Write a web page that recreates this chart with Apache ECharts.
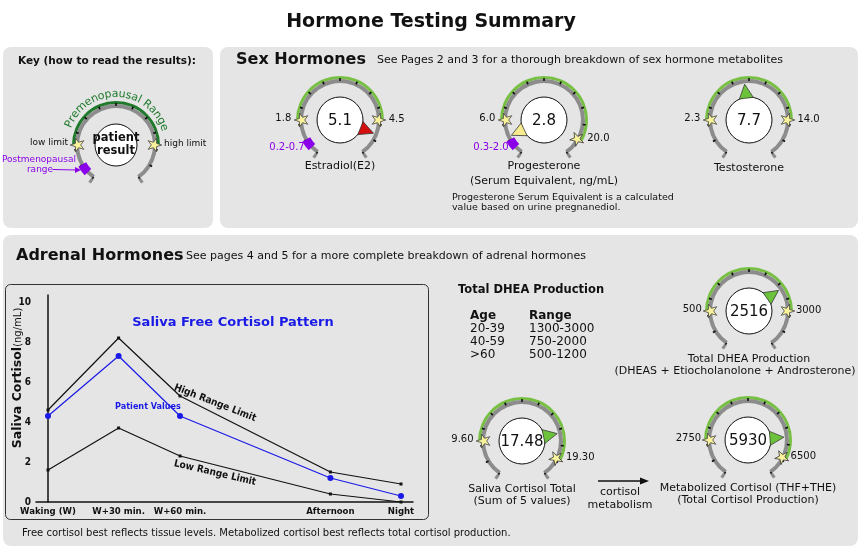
<!DOCTYPE html>
<html>
<head>
<meta charset="utf-8">
<title>Hormone Testing Summary</title>
<script src="https://cdn.jsdelivr.net/npm/echarts@6/dist/echarts.min.js"></script>
<style>
html,body{margin:0;padding:0;background:#fff;}
#main{width:863px;height:550px;}
</style>
</head>
<body>
<div id="main"></div>
<script>
// cortisol day curve
var timeLabels = ['Waking (W)', 'W+30 min.', 'W+60 min.', 'Afternoon', 'Night'];
var timePos = [0, 1, 1.87, 4, 5];
var highLimit = [4.6, 8.2, 5.3, 1.5, 0.9];
var lowLimit = [1.6, 3.7, 2.3, 0.4, 0.0];
var patientVals = [4.3, 7.3, 4.3, 1.2, 0.3];

// gauges
var gaugeNames = ['Estradiol(E2)', 'Progesterone\n(Serum Equivalent, ng/mL)', 'Testosterone',
    'Total DHEA Production\n(DHEAS + Etiocholanolone + Androsterone)        ',
    'Saliva Cortisol Total\n(Sum of 5 values)', 'Metabolized Cortisol (THF+THE)\n(Total Cortisol Production)'];
var gaugeValues = [5.1, 2.8, 7.7, 2516, 17.48, 5930];
var gaugeText = ['5.1', '2.8', '7.7', '2516', '17.48', '5930'];
var lowLimits = [1.8, 6.0, 2.3, 500, 9.60, 2750];
var highLimits = [4.5, 20.0, 14.0, 3000, 19.30, 6500];
var lowText = ['1.8', '6.0', '2.3', '500', '9.60', '2750'];
var highText = ['4.5', '20.0', '14.0', '3000', '19.30', '6500'];
var postRange = ['0.2-0.7', '0.3-2.0', '', '', '', ''];

// DHEA table
var ageGroups = ['20-39', '40-59', '>60'];
var ageRanges = ['1300-3000', '750-2000', '500-1200'];

// layout
var gaugeCenters = [[340, 120], [544, 120], [749, 120], [749, 311], [522, 441], [748, 440]];
var highAngles = [0, -30, 0, 0, -27, -27];
var nameOffsets = [46, 53.5, 48, 54.5, 54, 54.5];
var nameLineHeights = [13, 15, 13, 12, 12, 12];

var FONT = '"DejaVu Sans", Verdana, sans-serif';
var COND = '"DejaVu Sans Condensed", "DejaVu Sans", sans-serif';
var START = 235, END = -55, RING = 41;
var GREY = '#8c8c8c', GREEN = '#78c044', DKGREEN = '#1f7a2c', PURPLE = '#8a00e8', PANEL = '#e5e5e5';
var CLEAR = 'rgba(0,0,0,0)';
var STAR = 'path://M50,2 L61,37 L97,37 L68,58 L79,93 L50,72 L21,93 L32,58 L3,37 L39,37 Z';

function makeScale(low, high, hAng) {
    var k = (high - low) / (180 - hAng);
    return {min: low - (START - 180) * k, max: high + (hAng - END) * k};
}
function frac(v, sc) { return (v - sc.min) / (sc.max - sc.min); }
function angFrac(a) { return (START - a) / (START - END); }
function clampShow(v, lo, hi) {
    var pad = (hi - lo) * 0.12;
    return Math.max(lo - pad, Math.min(hi + pad, v));
}

function baseGauge(c, sc, radius, width, colors) {
    return {
        type: 'gauge', center: c, radius: radius, startAngle: START, endAngle: END,
        min: sc.min, max: sc.max, splitNumber: 12,
        axisLine: {show: true, lineStyle: {width: width, color: colors}},
        axisTick: {show: false}, splitLine: {show: false}, axisLabel: {show: false},
        pointer: {show: false}, anchor: {show: false}, title: {show: false}, detail: {show: false},
        data: []
    };
}

// ring, band, ticks, centre disc, purple block, stars
function ringSeries(series, c, sc, low, high, bandColor, purpleText, lowName, highName, labFont, hAng, disc, charW) {
    series.push(baseGauge(c, sc, RING + 3, 3, [[frac(low, sc), CLEAR], [frac(high, sc), bandColor], [1, CLEAR]]));
    var track = baseGauge(c, sc, RING, 4, [[1, GREY]]);
    track.splitLine = {show: true, length: 3, distance: -5, lineStyle: {color: '#111', width: 1.6}};
    series.push(track);
    var hooks = baseGauge(c, sc, RING, 4, [[1, CLEAR]]);
    hooks.splitNumber = 1;
    hooks.splitLine = {show: true, length: 5, distance: -9, lineStyle: {color: GREY, width: 3}};
    hooks.anchor = {show: true, showAbove: false, size: disc, icon: 'circle', itemStyle: {color: '#fff', borderColor: '#111', borderWidth: 1}};
    series.push(hooks);
    if (purpleText !== null) {
        var p = baseGauge(c, sc, RING + 2.5, 9, [[angFrac(224), CLEAR], [angFrac(210), PURPLE], [1, CLEAR]]);
        if (purpleText) {
            p.title = {show: true, fontSize: 10, color: PURPLE, fontFamily: FONT};
            p.data = [{value: sc.min, name: purpleText, title: {offsetCenter: [-53, 27]}}];
        }
        series.push(p);
    }
    var wl = lowName.length * labFont * charW, wh = highName.length * labFont * charW;
    var ha = hAng * Math.PI / 180;
    var stars = baseGauge(c, sc, RING, 4, [[1, CLEAR]]);
    stars.axisLine.show = false;
    stars.pointer = {show: true, icon: STAR, length: 14, width: 14, keepAspect: true, offsetCenter: [0, -(RING - 2 - 7)]};
    stars.itemStyle = {color: '#f8f29a', borderColor: '#444', borderWidth: 0.8};
    stars.title = {show: true, fontSize: labFont, color: '#111', fontFamily: FONT};
    stars.data = [
        {value: low, name: lowName, title: {offsetCenter: [-(RING - 2) - 9 - wl / 2, -2]}},
        {value: high, name: highName, title: {offsetCenter: [Math.cos(ha) * (RING - 2) + 9 + wh / 2, -Math.sin(ha) * (RING - 2) - 1]}}
    ];
    series.push(stars);
}

var series = [];

// key gauge
var keyScale = makeScale(0, 1, 0);
ringSeries(series, [116, 145], keyScale, 0, 1, DKGREEN, '', 'low limit', 'high limit', 9, 0, 42, 0.47);
var keyVal = baseGauge([116, 145], keyScale, RING, 4, [[1, CLEAR]]);
keyVal.axisLine.show = false;
keyVal.detail = {show: true, offsetCenter: [0, 0], fontSize: 11.5, fontWeight: 'bold', lineHeight: 13, color: '#111', fontFamily: FONT,
    formatter: function () { return 'patient\nresult'; }};
keyVal.data = [{value: 0.5, name: ''}];
series.push(keyVal);

for (var i = 0; i < gaugeValues.length; i++) {
    var sc = makeScale(lowLimits[i], highLimits[i], highAngles[i]);
    ringSeries(series, gaugeCenters[i], sc, lowLimits[i], highLimits[i], GREEN,
        postRange[i] ? postRange[i] : null, lowText[i], highText[i], 10, highAngles[i], 46, 0.58);
    var v = gaugeValues[i];
    var col = v > highLimits[i] ? '#d40f0f' : (v < lowLimits[i] ? '#f6ec8f' : '#6cc23a');
    var g = baseGauge(gaugeCenters[i], sc, RING, 4, [[1, CLEAR]]);
    g.axisLine.show = false;
    g.pointer = {show: true, icon: 'triangle', length: 14, width: 14, offsetCenter: [0, -22]};
    g.detail = {show: true, offsetCenter: [0, 1], fontSize: 15, fontWeight: 'normal', color: '#111', fontFamily: FONT,
        formatter: (function (t) { return function () { return t; }; })(gaugeText[i])};
    g.title = {show: true, fontSize: 11, color: '#111', fontFamily: FONT};
    g.data = [{value: clampShow(v, lowLimits[i], highLimits[i]), name: gaugeNames[i],
        title: {offsetCenter: [0, nameOffsets[i]], lineHeight: nameLineHeights[i]},
        itemStyle: {color: col, borderColor: '#333', borderWidth: 0.7}}];
    series.push(g);
}

// cortisol lines
function pairs(ys) {
    var out = [];
    for (var j = 0; j < ys.length; j++) out.push([timePos[j], ys[j]]);
    return out;
}
series.push({type: 'line', name: 'High Range Limit', data: pairs(highLimit), symbol: 'rect', symbolSize: 3,
    lineStyle: {color: '#111', width: 1.2}, itemStyle: {color: '#111'}, z: 3});
series.push({type: 'line', name: 'Low Range Limit', data: pairs(lowLimit), symbol: 'rect', symbolSize: 3,
    lineStyle: {color: '#111', width: 1.2}, itemStyle: {color: '#111'}, z: 3});
series.push({type: 'line', name: 'Patient Values', data: pairs(patientVals), symbol: 'circle', symbolSize: 6,
    lineStyle: {color: '#1a1ae6', width: 1.2}, itemStyle: {color: '#1a1ae6'}, z: 4});

// text helpers
function txt(x, y, s, size, opt) {
    var st = {text: s, x: 0, y: 0, fill: '#111', fontSize: size, fontFamily: FONT, align: 'left', verticalAlign: 'middle'};
    for (var k in opt) st[k] = opt[k];
    return {type: 'text', x: x, y: y, z: 5, rotation: st.rot || 0, style: st};
}

var graphics = [
    {type: 'rect', z: -10, shape: {x: 3, y: 47, width: 210, height: 181, r: 8}, style: {fill: PANEL}},
    {type: 'rect', z: -10, shape: {x: 220, y: 47, width: 638, height: 181, r: 8}, style: {fill: PANEL}},
    {type: 'rect', z: -10, shape: {x: 3, y: 235, width: 855, height: 311, r: 8}, style: {fill: PANEL}},
    {type: 'rect', z: -5, shape: {x: 5.5, y: 284.5, width: 423, height: 235, r: 5}, style: {fill: 'none', stroke: '#333', lineWidth: 1}},
    txt(431, 22, 'Hormone Testing Summary', 19, {fontWeight: 'bold', align: 'center'}),
    txt(107, 61, 'Key (how to read the results):', 10.5, {fontWeight: 'bold', align: 'center'}),
    txt(236, 60, 'Sex Hormones', 16, {fontWeight: 'bold'}),
    txt(377, 60, 'See Pages 2 and 3 for a thorough breakdown of sex hormone metabolites', 11),
    txt(452, 203, 'Progesterone Serum Equivalent is a calculated\nvalue based on urine pregnanediol.', 9.5, {lineHeight: 10}),
    txt(16, 256, 'Adrenal Hormones', 16, {fontWeight: 'bold'}),
    txt(186, 256, 'See pages 4 and 5 for a more complete breakdown of adrenal hormones', 11),
    txt(233, 323, 'Saliva Free Cortisol Pattern', 13, {fontWeight: 'bold', fill: '#1a1ae6', align: 'center'}),
    txt(148, 407, 'Patient Values', 9, {fontWeight: 'bold', fill: '#1a1ae6', fontFamily: COND, align: 'center'}),
    txt(215, 403, 'High Range Limit', 10, {fontWeight: 'bold', fontFamily: COND, align: 'center', rot: -0.37}),
    txt(215, 473, 'Low Range Limit', 10, {fontWeight: 'bold', fontFamily: COND, align: 'center', rot: -0.23}),
    txt(18, 378, '{b|Saliva Cortisol}{n|(ng/mL)}', 10, {align: 'center', rot: Math.PI / 2,
        rich: {b: {fontSize: 12.5, fontWeight: 'bold', fontFamily: FONT, fill: '#111'}, n: {fontSize: 10, fontFamily: FONT, fill: '#111'}}}),
    txt(458, 290, 'Total DHEA Production', 11.5, {fontWeight: 'bold'}),
    txt(470, 316, 'Age', 12, {fontWeight: 'bold'}),
    txt(529, 316, 'Range', 12, {fontWeight: 'bold'}),
    txt(620, 499, 'cortisol\nmetabolism', 11, {align: 'center', lineHeight: 13}),
    txt(22, 533, 'Free cortisol best reflects tissue levels. Metabolized cortisol best reflects total cortisol production.', 10),
    {type: 'line', z: 5, shape: {x1: 598, y1: 481, x2: 642, y2: 481}, style: {stroke: '#111', lineWidth: 1.5}},
    {type: 'polygon', z: 5, shape: {points: [[649, 481], [640, 477.5], [640, 484.5]]}, style: {fill: '#111'}},
    txt(39, 160, 'Postmenopausal', 9, {fill: PURPLE, align: 'center'}),
    txt(40, 169.5, 'range', 9, {fill: PURPLE, align: 'center'}),
    {type: 'line', z: 5, shape: {x1: 53, y1: 169.5, x2: 76, y2: 170}, style: {stroke: PURPLE, lineWidth: 1.2}},
    {type: 'polygon', z: 5, shape: {points: [[81, 170], [75, 167], [75, 173]]}, style: {fill: PURPLE}}
];
for (var r = 0; r < ageGroups.length; r++) {
    graphics.push(txt(470, 329 + r * 12.7, ageGroups[r], 12));
    graphics.push(txt(529, 329 + r * 12.7, ageRanges[r], 12));
}

// curved "Premenopausal Range" along the key ring
(function () {
    var label = 'Premenopausal Range', fs = 11, rad = 51, mid = 88 * Math.PI / 180;
    var ctx = document.createElement('canvas').getContext('2d');
    ctx.font = fs + 'px ' + FONT;
    var widths = [], total = 0;
    for (var q = 0; q < label.length; q++) {
        widths.push(ctx.measureText(label[q]).width + 0.2);
        total += widths[q];
    }
    var s = 0;
    for (q = 0; q < label.length; q++) {
        var th = mid + (total / 2 - (s + widths[q] / 2)) / rad;
        s += widths[q];
        if (label[q] === ' ') continue;
        graphics.push({type: 'text', z: 5, x: 116 + rad * Math.cos(th), y: 145 - rad * Math.sin(th), rotation: th - Math.PI / 2,
            style: {text: label[q], fontSize: fs, fontFamily: FONT, fill: DKGREEN, align: 'center', verticalAlign: 'middle'}});
    }
})();

var chart = echarts.init(document.getElementById('main'));
chart.setOption({
    animation: false,
    backgroundColor: '#fff',
    grid: {left: 36, right: 450, top: 295, bottom: 48},
    xAxis: {
        type: 'value', min: -0.17, max: 5.17,
        axisLine: {lineStyle: {color: '#111', width: 1.5}},
        axisTick: {show: false}, splitLine: {show: false},
        axisLabel: {customValues: timePos, margin: 5, color: '#111', fontSize: 9.5, fontWeight: 'bold', fontFamily: COND,
            formatter: function (v) {
                for (var j = 0; j < timePos.length; j++) if (Math.abs(timePos[j] - v) < 1e-6) return timeLabels[j];
                return '';
            }}
    },
    yAxis: {
        type: 'value', min: 0, max: 10.35, interval: 2,
        axisLine: {show: true, lineStyle: {color: '#111', width: 1.5}},
        axisTick: {show: false}, splitLine: {show: false},
        axisLabel: {showMaxLabel: false, margin: 5, color: '#111', fontSize: 10, fontWeight: 'bold', fontFamily: COND}
    },
    graphic: graphics,
    series: series
});
</script>
</body>
</html>
